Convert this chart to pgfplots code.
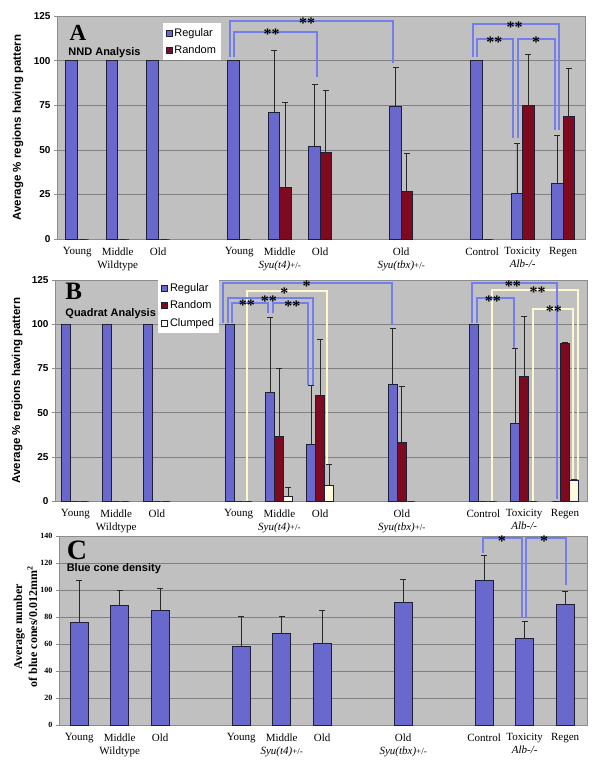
\documentclass[border=0pt]{standalone}
\usepackage{pgfplots}
\pgfplotsset{compat=1.18}
\usepackage{fontspec}
\setmainfont{Liberation Serif}
\setsansfont{Liberation Sans}
\definecolor{regc}{RGB}{105,105,205}
\definecolor{ranc}{RGB}{125,10,30}
\definecolor{cluc}{RGB}{255,250,222}
\definecolor{bgc}{RGB}{192,192,192}
\definecolor{gridc}{RGB}{128,128,128}
\definecolor{brb}{RGB}{115,125,235}
\definecolor{brc}{RGB}{255,248,205}
\definecolor{outc}{RGB}{30,30,55}
\definecolor{errc}{RGB}{40,40,40}
\definecolor{framec}{RGB}{140,140,140}
\tikzset{
  bl/.style={brb, line width=1.8pt},
  cr/.style={brc, line width=1.8pt},
  st/.style={font=\fontsize{16}{16}\selectfont\bfseries, anchor=base, yshift=-8pt, inner sep=0pt},
}
\pgfplotsset{
  common/.style={
    scale only axis, anchor=south west,
    xmin=-0.5, xmax=12.54, ymin=0,
    xtick={0,1,2,4,5,6,8,10,11,12},
    xticklabels={Young,{Middle\\Wildtype},Old,Young,{Middle\\\textit{Syu(t4)}{\small +/-}},Old,{Old\\\textit{Syu(tbx)}{\small +/-}},Control,{Toxicity\\\textit{Alb-/-}},Regen},
    xticklabel style={font=\fontsize{11}{13}\selectfont, align=center, yshift=-2pt},
    xtick style={draw=none},
    ytick pos=left, tick align=outside, major tick length=3pt,
    ytick style={framec, line width=0.6pt},
    axis background/.style={fill=bgc},
    axis line style={framec, line width=0.8pt},
    ymajorgrids, major grid style={gridc, line width=0.6pt},
    /pgf/number format/assume math mode=true,
    ybar, clip=false,
    error bars/y dir=plus, error bars/y explicit,
    error bars/error bar style={errc, line width=0.9pt},
    error bars/error mark options={errc, line width=0.9pt, mark size=3pt, rotate=90},
  },
  sq/.style={legend image code/.code={\draw[##1, line width=0.6pt] (0pt,-3pt) rectangle (6pt,3pt);}},
  bregc/.style={fill=regc, draw=outc, line width=0.9pt},
  branc/.style={fill=ranc, draw=outc, line width=0.9pt},
  bcluc/.style={fill=cluc, draw=outc, line width=0.9pt},
}
\begin{document}
\begin{tikzpicture}
\useasboundingbox (0,0) rectangle (600pt,-768pt);
% ---------------- Panel A
\begin{axis}[common, at={(57pt,-239pt)}, width=528pt, height=223pt,
  ymax=125, ytick={0,25,...,125},
  yticklabel style={font=\fontsize{10}{12}\sffamily\bfseries},
  ylabel={Average \% regions having pattern},
  ylabel style={font=\fontsize{11.5}{13}\sffamily\bfseries, at={(axis description cs:-0.074,0.5)}, anchor=center},
  legend style={at={(0.2,0.969)}, anchor=north west, fill=white, draw=none, font=\fontsize{11}{13}\sffamily, row sep=4pt, inner xsep=3pt, inner ysep=3pt},
  legend cell align=left]
\addplot[bregc, bar width=0.28, bar shift=-0.14, sq] coordinates {
 (0,100) +- (0,0) (1,100) +- (0,0) (2,100) +- (0,0) (4,100) +- (0,0)
 (5,71) +- (0,34.8) (6,52) +- (0,34.6) (8,74.4) +- (0,21.5)
 (10,100) +- (0,0) (11,25.4) +- (0,28.1) (12,31.3) +- (0,26.5)};
\addplot[branc, bar width=0.28, bar shift=0.14, sq] coordinates {
 (0,0) +- (0,0) (1,0) +- (0,0) (2,0) +- (0,0) (4,0) +- (0,0)
 (5,28.9) +- (0,47.4) (6,48.3) +- (0,34.9) (8,26.5) +- (0,21.6)
 (10,0) +- (0,0) (11,74.8) +- (0,28.7) (12,68.8) +- (0,26.7)};
\legend{Regular,Random}
\node[anchor=base west, font=\fontsize{23}{23}\selectfont\bfseries] at (rel axis cs:0.017,0.892) {A};
\node[anchor=base west, font=\fontsize{11}{13}\sffamily\bfseries] at (rel axis cs:0.015,0.825) {NND Analysis};
\draw[bl] (axis cs:3.78,102) |- (axis cs:7.8,122.2) -- (axis cs:7.8,98.7);
\draw[bl] (axis cs:3.88,102) |- (axis cs:5.93,116.2) -- (axis cs:5.93,90.8);
\draw[bl] (axis cs:9.78,102) |- (axis cs:11.9,120.5) -- (axis cs:11.9,61.1);
\draw[bl] (axis cs:9.88,102) |- (axis cs:10.77,112.1) -- (axis cs:10.77,56.6);
\draw[bl] (axis cs:10.89,56.6) |- (axis cs:11.8,112.1) -- (axis cs:11.8,61.1);
\node[st] at (axis cs:5.68,122.2) {**};
\node[st] at (axis cs:4.8,116.2) {**};
\node[st] at (axis cs:10.8,120.5) {**};
\node[st] at (axis cs:10.3,112.1) {**};
\node[st] at (axis cs:11.33,112.1) {*};
\end{axis}
% ---------------- Panel B
\begin{axis}[common, at={(55pt,-501pt)}, width=532pt, height=221pt,
  ymax=125, ytick={0,25,...,125},
  yticklabel style={font=\fontsize{10}{12}\sffamily\bfseries},
  ylabel={Average \% regions having pattern},
  ylabel style={font=\fontsize{11.5}{13}\sffamily\bfseries, at={(axis description cs:-0.071,0.5)}, anchor=center},
  legend style={at={(0.194,1.009)}, anchor=north west, fill=white, draw=none, font=\fontsize{11}{13}\sffamily, row sep=4pt, inner xsep=3pt, inner ysep=3pt},
  legend cell align=left]
\addplot[bregc, bar width=0.22, bar shift=-0.22, sq] coordinates {
 (0,100) +- (0,0) (1,100) +- (0,0) (2,100) +- (0,0) (4,100) +- (0,0)
 (5,61.2) +- (0,42.5) (6,31.9) +- (0,33.6) (8,66.1) +- (0,31.5)
 (10,100) +- (0,0) (11,43.6) +- (0,42.7) (12,0) +- (0,0)};
\addplot[branc, bar width=0.22, bar shift=0, sq] coordinates {
 (0,0) +- (0,0) (1,0) +- (0,0) (2,0) +- (0,0) (4,0) +- (0,0)
 (5,36.3) +- (0,38.5) (6,59.5) +- (0,31.7) (8,33.2) +- (0,31.8)
 (10,0) +- (0,0) (11,70.6) +- (0,34) (12,89.1) +- (0,0.5)};
\addplot[bcluc, bar width=0.22, bar shift=0.22, sq] coordinates {
 (0,0) +- (0,0) (1,0) +- (0,0) (2,0) +- (0,0) (4,0) +- (0,0)
 (5,2.3) +- (0,5.3) (6,8.9) +- (0,11.7) (8,0) +- (0,0)
 (10,0) +- (0,0) (11,0) +- (0,0) (12,11.7) +- (0,0.6)};
\legend{Regular,Random,Clumped}
\node[anchor=base west, font=\fontsize{25}{25}\selectfont\bfseries] at (rel axis cs:0.013,0.91) {B};
\node[anchor=base west, font=\fontsize{11}{13}\sffamily\bfseries] at (rel axis cs:0.013,0.837) {Quadrat Analysis};
\draw[cr] (axis cs:4.2,0) |- (axis cs:6.16,118.8) -- (axis cs:6.16,21);
\draw[cr] (axis cs:10.21,0) |- (axis cs:12.31,119.4) -- (axis cs:12.31,12.4);
\draw[cr] (axis cs:11.21,0) |- (axis cs:12.2,108.6) -- (axis cs:12.2,12.4);
\draw[bl] (axis cs:3.61,100.7) |- (axis cs:7.76,123.3) -- (axis cs:7.76,99.5);
\draw[bl] (axis cs:3.74,100.7) |- (axis cs:5.82,114.8) -- (axis cs:5.82,65.6);
\draw[bl] (axis cs:3.84,100.7) |- (axis cs:4.72,112) -- (axis cs:4.72,106.3);
\draw[bl] (axis cs:4.84,106.3) |- (axis cs:5.7,112) -- (axis cs:5.7,65.6);
\draw[bl] (axis cs:9.72,100.7) |- (axis cs:11.8,123.3) -- (axis cs:11.8,1);
\draw[bl] (axis cs:9.84,100.7) |- (axis cs:10.75,114.8) -- (axis cs:10.75,86.5);
\node[st] at (axis cs:5.67,123.3) {*};
\node[st] at (axis cs:5.12,119.2) {*};
\node[st] at (axis cs:4.74,114.8) {**};
\node[st] at (axis cs:4.2,112) {**};
\node[st] at (axis cs:5.32,111.5) {**};
\node[st] at (axis cs:10.72,123.3) {**};
\node[st] at (axis cs:10.23,114.8) {**};
\node[st] at (axis cs:11.33,119.4) {**};
\node[st] at (axis cs:11.73,108.6) {**};
\end{axis}
% ---------------- Panel C
\begin{axis}[common, at={(59pt,-725pt)}, width=528pt, height=189pt,
  ymax=140, ytick={0,20,...,140},
  yticklabel style={font=\fontsize{8}{10}\selectfont\bfseries},
  ylabel={Average number\\of blue cones/0.012mm\textsuperscript{2}},
  ylabel style={align=center, font=\fontsize{12}{15}\selectfont\bfseries, at={(axis description cs:-0.0635,0.52)}, anchor=center}]
\addplot[bregc, bar width=0.44, bar shift=0] coordinates {
 (0,75.7) +- (0,31.3) (1,88.5) +- (0,11.5) (2,84.8) +- (0,16.7)
 (4,57.9) +- (0,22.5) (5,68) +- (0,12.4) (6,60.1) +- (0,24.4)
 (8,90.5) +- (0,17.5) (10,107) +- (0,18.7) (11,63.8) +- (0,13.1) (12,89.5) +- (0,9.8)};
\node[anchor=base west, font=\fontsize{28}{28}\selectfont\bfseries] at (rel axis cs:0.008,0.878) {C};
\node[anchor=base west, font=\fontsize{11}{13}\sffamily\bfseries] at (rel axis cs:0.008,0.81) {Blue cone density};
\draw[bl] (axis cs:9.97,127.4) |- (axis cs:10.93,138.5) -- (axis cs:10.93,80);
\draw[bl] (axis cs:11.03,80) |- (axis cs:12.02,138.5) -- (axis cs:12.02,103.7);
\node[st] at (axis cs:10.44,138.5) {*};
\node[st] at (axis cs:11.48,138.5) {*};
\end{axis}
\end{tikzpicture}
\end{document}
